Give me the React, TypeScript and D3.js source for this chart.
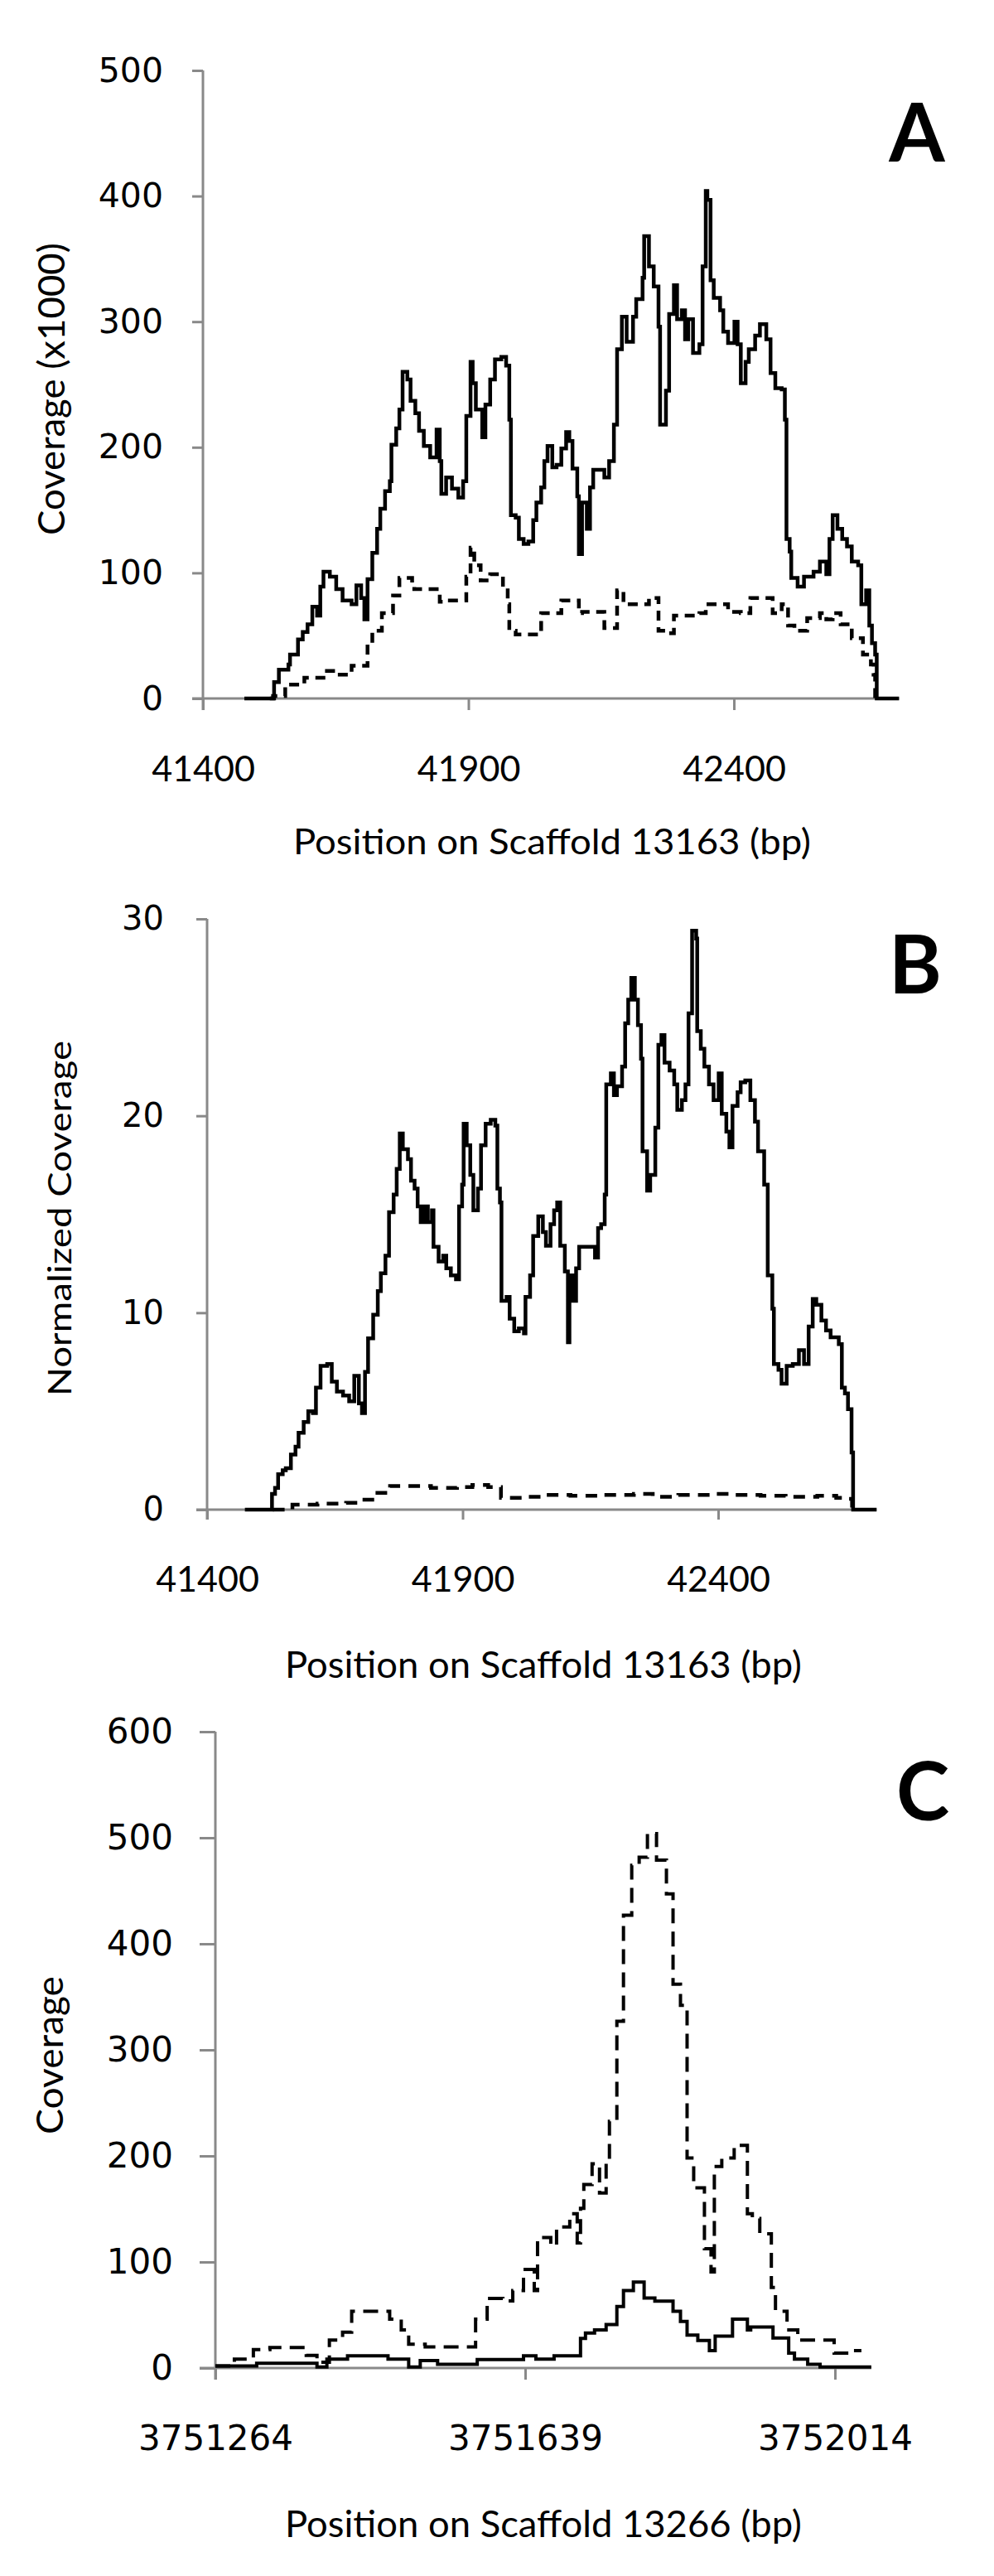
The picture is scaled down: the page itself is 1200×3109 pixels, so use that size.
import React, { useEffect, useRef } from 'react';
import * as d3 from 'd3';

type Pt = [number, number];

// A: coverage (x1000) along scaffold 13163, [position bp, coverage]
const aSolid: Pt[] = [
  [41478, 0], [41534, 13], [41543, 23], [41561, 27], [41564, 35], [41579, 47], [41588, 53], [41597, 59],
  [41606, 73], [41615, 66], [41621, 89], [41627, 101], [41639, 97], [41651, 87], [41663, 78], [41680, 75],
  [41689, 90], [41698, 80], [41704, 63], [41710, 95], [41719, 116], [41728, 135], [41734, 151], [41743, 165],
  [41752, 173], [41755, 202], [41764, 215], [41770, 230], [41776, 260], [41785, 254], [41791, 237], [41800, 227],
  [41807, 213], [41816, 201], [41828, 192], [41840, 214], [41846, 189], [41849, 163], [41858, 176], [41869, 167],
  [41881, 160], [41890, 173], [41896, 225], [41904, 268], [41908, 251], [41914, 230], [41926, 208], [41932, 234],
  [41941, 254], [41950, 270], [41962, 272], [41971, 265], [41977, 222], [41980, 146], [41989, 144], [41995, 127],
  [42004, 123], [42013, 125], [42022, 142], [42028, 156], [42037, 168], [42043, 189], [42049, 201], [42058, 184],
  [42066, 186], [42075, 199], [42084, 212], [42090, 205], [42096, 183], [42105, 161], [42108, 115], [42114, 156],
  [42123, 135], [42129, 168], [42135, 182], [42156, 176], [42165, 189], [42174, 218], [42180, 278], [42189, 304],
  [42198, 284], [42210, 304], [42216, 318], [42228, 335], [42231, 368], [42240, 344], [42249, 328], [42258, 296],
  [42261, 218], [42272, 245], [42278, 306], [42287, 329], [42293, 302], [42302, 309], [42308, 286], [42314, 302],
  [42323, 275], [42335, 282], [42341, 344], [42347, 404], [42350, 397], [42356, 333], [42362, 319], [42374, 309],
  [42380, 292], [42389, 283], [42401, 300], [42407, 282], [42413, 251], [42422, 268], [42428, 278], [42440, 289],
  [42449, 298], [42461, 286], [42469, 259], [42478, 247], [42490, 246], [42496, 222], [42499, 127], [42505, 117],
  [42508, 96], [42520, 89], [42532, 97], [42550, 101], [42562, 109], [42574, 99], [42580, 127], [42586, 146],
  [42595, 135], [42604, 127], [42613, 121], [42622, 109], [42634, 106], [42640, 75], [42649, 86], [42655, 58],
  [42660, 44], [42666, 35], [42669, 0], [42711, 0],
];

const aDashed: Pt[] = [
  [41526, 0], [41532, 2], [41555, 11], [41591, 16.5], [41627, 22], [41651, 19], [41680, 26], [41710, 44],
  [41719, 54], [41737, 68], [41758, 82], [41770, 96], [41794, 89], [41798, 87], [41846, 77], [41858, 78],
  [41896, 97], [41904, 120], [41911, 106], [41923, 94], [41941, 99], [41965, 89], [41974, 75], [41977, 54],
  [41989, 51], [42037, 68], [42075, 78], [42108, 68], [42114, 69], [42156, 56], [42180, 86], [42192, 75],
  [42240, 80], [42258, 54], [42276, 52], [42287, 66], [42335, 68], [42347, 75], [42389, 69], [42413, 68],
  [42431, 80], [42473, 68], [42490, 75], [42502, 58], [42514, 54], [42538, 64], [42562, 68], [42574, 63],
  [42586, 68], [42601, 59], [42622, 48], [42643, 35], [42658, 27], [42663, 19], [42666, 0], [42669, 0],
];

// B: normalized coverage along scaffold 13163
const bSolid: Pt[] = [
  [41474, 0], [41527, 0.8], [41533, 1.1], [41539, 1.8], [41548, 2.0], [41554, 2.1], [41564, 2.8], [41573, 3.2],
  [41579, 3.9], [41589, 4.45], [41598, 5.0], [41607, 4.9], [41613, 6.2], [41622, 7.3], [41635, 7.4], [41644, 6.5],
  [41654, 6.0], [41666, 5.8], [41678, 5.5], [41688, 6.8], [41697, 5.4], [41703, 4.9], [41709, 7.0], [41715, 8.7],
  [41725, 9.9], [41734, 11.1], [41740, 12.0], [41749, 12.9], [41756, 15.1], [41765, 16.0], [41771, 17.3], [41777, 19.1],
  [41783, 18.3], [41793, 17.8], [41799, 16.7], [41806, 16.3], [41812, 15.4], [41818, 14.6], [41825, 15.4], [41832, 14.6],
  [41840, 15.2], [41843, 13.35], [41853, 12.6], [41862, 12.9], [41868, 12.25], [41877, 11.9], [41887, 11.7], [41893, 15.4],
  [41899, 16.5], [41902, 19.6], [41908, 18.5], [41915, 17.0], [41921, 15.2], [41930, 16.3], [41936, 18.5], [41945, 19.6],
  [41955, 19.8], [41964, 19.5], [41968, 16.3], [41973, 15.6], [41976, 10.6], [41986, 10.8], [41992, 9.7], [42001, 9.06],
  [42010, 9.2], [42020, 8.95], [42023, 10.8], [42032, 11.9], [42038, 13.9], [42048, 14.9], [42057, 14.1], [42063, 13.4],
  [42072, 14.5], [42079, 15.2], [42085, 15.6], [42091, 13.4], [42100, 12.1], [42106, 8.5], [42109, 11.9], [42116, 10.6],
  [42122, 12.25], [42128, 13.35], [42159, 12.8], [42165, 14.3], [42171, 14.5], [42178, 16.0], [42181, 21.6], [42190, 22.15],
  [42196, 21.05], [42202, 21.5], [42212, 22.5], [42218, 24.7], [42224, 25.9], [42230, 27.0], [42237, 25.9], [42243, 24.6],
  [42249, 22.9], [42252, 18.2], [42261, 16.2], [42267, 17.0], [42277, 19.4], [42283, 23.6], [42289, 24.1], [42295, 22.7],
  [42305, 22.3], [42314, 21.6], [42320, 20.3], [42329, 20.8], [42336, 21.6], [42342, 25.2], [42349, 29.4], [42357, 29.0],
  [42359, 24.3], [42366, 23.4], [42373, 22.5], [42382, 21.6], [42391, 20.8], [42401, 22.15], [42407, 20.1], [42416, 19.2],
  [42422, 18.4], [42428, 20.5], [42438, 21.2], [42444, 21.7], [42453, 21.8], [42463, 20.8], [42472, 19.7], [42478, 18.2],
  [42490, 16.5], [42497, 11.9], [42506, 10.2], [42509, 7.4], [42518, 7.1], [42524, 6.4], [42534, 7.3], [42546, 7.4],
  [42558, 8.1], [42568, 7.4], [42577, 9.3], [42585, 10.7], [42592, 10.4], [42602, 9.6], [42611, 9.1], [42620, 8.75],
  [42636, 8.4], [42642, 6.2], [42648, 5.9], [42654, 5.1], [42661, 2.9], [42664, 0], [42710, 0],
];

const bDashed: Pt[] = [
  [41529, 0], [41567, 0.25], [41616, 0.3], [41672, 0.35], [41703, 0.5], [41727, 0.85], [41758, 1.2], [41838, 1.1],
  [41889, 1.15], [41919, 1.25], [41950, 1.15], [41975, 0.6], [42025, 0.65], [42062, 0.75], [42111, 0.7], [42173, 0.75],
  [42235, 0.8], [42272, 0.65], [42322, 0.75], [42384, 0.8], [42433, 0.75], [42483, 0.7], [42532, 0.65], [42594, 0.7],
  [42631, 0.6], [42656, 0.55], [42662, 0],
];

// C: coverage along scaffold 13266
const cSolid: Pt[] = [
  [3751264, 2], [3751314, 4.5], [3751387, 1], [3751399, 8.4], [3751424, 11.5], [3751473, 8.4], [3751498, 1],
  [3751512, 7], [3751533, 3.5], [3751581, 8], [3751637, 11.5], [3751652, 8.4], [3751674, 11.5], [3751706, 28],
  [3751712, 33], [3751723, 36], [3751737, 41], [3751750, 58], [3751758, 73], [3751770, 81], [3751783, 66],
  [3751796, 63], [3751818, 53.5], [3751827, 44], [3751835, 31], [3751848, 26], [3751862, 16.5], [3751869, 30],
  [3751890, 46], [3751908, 36], [3751912, 38.6], [3751939, 28.4], [3751958, 14], [3751965, 8.4], [3751981, 3.5],
  [3751996, 1], [3752058, 1],
];

const cDashed: Pt[] = [
  [3751264, 2], [3751287, 8.4], [3751310, 17.4], [3751330, 19.4], [3751374, 12], [3751387, 5.5], [3751402, 26.4],
  [3751418, 33.8], [3751429, 53.5], [3751475, 46], [3751489, 36], [3751498, 22.4], [3751518, 20], [3751579, 46],
  [3751593, 65.7], [3751612, 63.3], [3751624, 73], [3751637, 93], [3751650, 73], [3751654, 123], [3751670, 115.6],
  [3751677, 133], [3751693, 145.5], [3751702, 118], [3751706, 150.6], [3751710, 173], [3751720, 192.5], [3751729, 165],
  [3751737, 192.5], [3751741, 232.6], [3751750, 327], [3751758, 427], [3751768, 474], [3751777, 481.6], [3751787, 504],
  [3751798, 479], [3751810, 447], [3751818, 362], [3751827, 342], [3751835, 198], [3751843, 170], [3751856, 112.5],
  [3751864, 90.6], [3751868, 190], [3751877, 198], [3751892, 210], [3751908, 145.5], [3751914, 141], [3751923, 126.5],
  [3751937, 76], [3751942, 53.5], [3751956, 36], [3751969, 26.4], [3752013, 14], [3752034, 16.5], [3752046, 16.5],
];

const ticks13163 = [41400, 41900, 42400];
const ticks13266 = [3751264, 3751639, 3752014];
const covTicksA = [0, 100, 200, 300, 400, 500];
const covTicksB = [0, 10, 20, 30];
const covTicksC = [0, 100, 200, 300, 400, 500, 600];

const panels = [
  {
    letter: 'A', solid: aSolid, dashed: aDashed, xTicks: ticks13163, yTicks: covTicksA,
    xDomain: [41400, 42400], xRange: [245, 886], xEnd: 42711, yDomain: [0, 500], yRange: [843, 85],
    yTickSize: 13, yPad: 35, yFont: 41, xTickSize: 14, xPad: 55, xFont: 43, xFamily: 'Lato',
    yTitle: 'Coverage (x1000)', yTitleX: 78, yTitleBottom: 646, yTitleLen: 353, yTitleFont: 44,
    xTitle: 'Position on Scaffold 13163 (bp)', xTitleX: 354, xTitleY: 1031, xTitleLen: 625, xTitleFont: 43,
    letterX: 1107, letterY: 195, width: 4.5, dash: '12,8',
  },
  {
    letter: 'B', solid: bSolid, dashed: bDashed, xTicks: ticks13163, yTicks: covTicksB,
    xDomain: [41400, 42400], xRange: [250, 867], xEnd: 42710, yDomain: [0, 30], yRange: [1822, 1109],
    yTickSize: 13, yPad: 39, yFont: 40, xTickSize: 12, xPad: 56, xFont: 43, xFamily: 'Lato',
    yTitle: 'Normalized Coverage', yTitleX: 86, yTitleBottom: 1685, yTitleLen: 429, yTitleFont: 38,
    xTitle: 'Position on Scaffold 13163 (bp)', xTitleX: 344, xTitleY: 2025, xTitleLen: 624, xTitleFont: 44,
    letterX: 1105, letterY: 1199, width: 4.5, dash: '14,10',
  },
  {
    letter: 'C', solid: cSolid, dashed: cDashed, xTicks: ticks13266, yTicks: covTicksC,
    xDomain: [3751264, 3752014], xRange: [260, 1008], xEnd: 3752058, yDomain: [0, 600], yRange: [2858, 2090],
    yTickSize: 19, yPad: 32, yFont: 42, xTickSize: 14, xPad: 55, xFont: 42, xFamily: 'DejaVu Sans',
    yTitle: 'Coverage', yTitleX: 76, yTitleBottom: 2576, yTitleLen: 191, yTitleFont: 44,
    xTitle: 'Position on Scaffold 13266 (bp)', xTitleX: 344, xTitleY: 3062, xTitleLen: 624, xTitleFont: 44,
    letterX: 1114, letterY: 2197, width: 4, dash: '18,10',
  },
];

const axisGray = '#898989';

const CoverageFigure: React.FC = () => {
  const ref = useRef<SVGSVGElement>(null);

  useEffect(() => {
    if (!ref.current) return;
    const svg = d3.select(ref.current);
    svg.selectAll('*').remove();

    panels.forEach(p => {
      const x = d3.scaleLinear().domain(p.xDomain).range(p.xRange);
      const y = d3.scaleLinear().domain(p.yDomain).range(p.yRange);
      const g = svg.append('g');
      const x0 = x(p.xDomain[0]);
      const y0 = y(0);

      // y axis
      const yAx = g.append('g')
        .attr('transform', `translate(${x0},0)`)
        .call(d3.axisLeft(y).tickValues(p.yTicks).tickSize(p.yTickSize).tickPadding(p.yPad).tickFormat(d3.format('d')));
      yAx.select('.domain').remove();
      yAx.selectAll('line').attr('stroke', axisGray).attr('stroke-width', 3);
      yAx.selectAll('text')
        .attr('font-family', 'DejaVu Sans')
        .attr('font-size', p.yFont)
        .attr('fill', '#000');

      // x axis
      const xAx = g.append('g')
        .attr('transform', `translate(0,${y0})`)
        .call(d3.axisBottom(x).tickValues(p.xTicks).tickSize(p.xTickSize).tickPadding(p.xPad).tickFormat(d3.format('d')));
      xAx.select('.domain').remove();
      xAx.selectAll('line').attr('stroke', axisGray).attr('stroke-width', 3);
      xAx.selectAll('text')
        .attr('font-family', p.xFamily)
        .attr('font-size', p.xFont)
        .attr('fill', '#000');

      g.append('line')
        .attr('x1', x0).attr('x2', x0)
        .attr('y1', y(p.yDomain[1])).attr('y2', y0 + p.xTickSize)
        .attr('stroke', axisGray).attr('stroke-width', 3);
      g.append('line')
        .attr('x1', x0 - p.yTickSize).attr('x2', x(p.xEnd))
        .attr('y1', y0).attr('y2', y0)
        .attr('stroke', axisGray).attr('stroke-width', 3);

      const line = d3.line<Pt>()
        .x(d => x(d[0]))
        .y(d => y(d[1]))
        .curve(d3.curveStepAfter);

      g.append('path')
        .datum(p.dashed)
        .attr('fill', 'none')
        .attr('stroke', '#000')
        .attr('stroke-width', p.width)
        .attr('stroke-dasharray', p.dash)
        .attr('d', line);

      g.append('path')
        .datum(p.solid)
        .attr('fill', 'none')
        .attr('stroke', '#000')
        .attr('stroke-width', p.width)
        .attr('d', line);

      // titles
      g.append('text')
        .attr('transform', `translate(${p.yTitleX},${p.yTitleBottom}) rotate(-90)`)
        .attr('font-family', 'Lato')
        .attr('font-size', p.yTitleFont)
        .attr('textLength', p.yTitleLen)
        .attr('lengthAdjust', 'spacingAndGlyphs')
        .text(p.yTitle);

      g.append('text')
        .attr('x', p.xTitleX)
        .attr('y', p.xTitleY)
        .attr('font-family', 'Lato')
        .attr('font-size', p.xTitleFont)
        .attr('textLength', p.xTitleLen)
        .attr('lengthAdjust', 'spacingAndGlyphs')
        .text(p.xTitle);

      g.append('text')
        .attr('x', p.letterX)
        .attr('y', p.letterY)
        .attr('text-anchor', 'middle')
        .attr('font-family', 'Lato')
        .attr('font-weight', 'bold')
        .attr('font-size', 97)
        .text(p.letter);
    });
  }, []);

  return (
    <svg
      ref={ref}
      width={1200}
      height={3109}
      style={{ position: 'absolute', left: 0, top: 0, background: '#fff', display: 'block' }}
    />
  );
};

export default CoverageFigure;
